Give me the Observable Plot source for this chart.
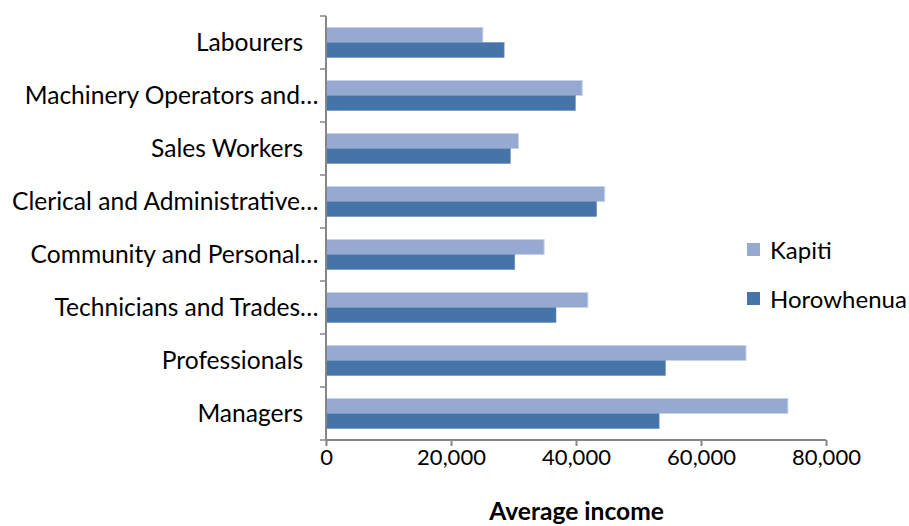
<!DOCTYPE html>
<html>
<head>
<meta charset="utf-8">
<script src="https://cdn.jsdelivr.net/npm/d3@7"></script>
<script src="https://cdn.jsdelivr.net/npm/@observablehq/plot@0.6"></script>
<style>
  html, body { margin: 0; padding: 0; background: #fff; }
  #wrap { position: relative; width: 909px; height: 526px; font-family: Lato, "Open Sans", sans-serif; }
  #legend { position: absolute; left: 747px; top: 235px; font-size: 24px; color: #000; }
  #legend .item { display: flex; align-items: center; height: 28px; margin-bottom: 21px; }
  #legend .sw { width: 13px; height: 13px; margin-right: 10px; }
  svg text { fill: #000; }
  g[aria-label="x-axis tick label"], g[aria-label="x-axis"] g.tick text { font-size: 22px; }
</style>
</head>
<body>
<div id="wrap"></div>
<script>
// Categories (top to bottom)
const categories = [
  "Labourers",
  "Machinery Operators and Drivers",
  "Sales Workers",
  "Clerical and Administrative Workers",
  "Community and Personal Service Workers",
  "Technicians and Trades Workers",
  "Professionals",
  "Managers"
];
// Tick labels as displayed (truncated as in the reference)
const tickLabels = [
  "Labourers",
  "Machinery Operators and…",
  "Sales Workers",
  "Clerical and Administrative…",
  "Community and Personal…",
  "Technicians and Trades…",
  "Professionals",
  "Managers"
];
const seriesNames = ["Kapiti", "Horowhenua"];
const kapiti     = [25100, 41000, 30800, 44600, 34900, 41900, 67200, 73900];
const horowhenua = [28500, 39900, 29500, 43300, 30200, 36800, 54300, 53300];
const xTicks = [0, 20000, 40000, 60000, 80000];
const colors = ["#95a9d1", "#4574a9"];

const kData = categories.map((c, i) => ({category: c, value: kapiti[i], series: "Kapiti"}));
const hData = categories.map((c, i) => ({category: c, value: horowhenua[i], series: "Horowhenua"}));
const labelOf = new Map(categories.map((c, i) => [c, tickLabels[i]]));
const truncated = new Set(categories.filter((c, i) => tickLabels[i].endsWith("…")));

const pad = 23 / 53;

// Axis lines and category-boundary tick marks (Excel style)
function axisFrame(index, scales, values, dims) {
  const y = scales.y;
  const g = d3.create("svg:g").attr("stroke", "#868686").attr("stroke-width", 1.5).attr("fill", "none");
  const ys = categories.map(c => y(c));
  const step = ys.length > 1 ? ys[1] - ys[0] : dims.height;
  const bw = typeof y.bandwidth === "function" ? y.bandwidth() : step * (1 - pad);
  const off = (step - bw) / 2;
  const bounds = ys.map(v => v - off).concat([ys[ys.length - 1] + bw + off]);
  for (const b of bounds) {
    g.append("line").attr("x1", dims.marginLeft - 6).attr("x2", dims.marginLeft)
      .attr("y1", b).attr("y2", b);
  }
  const x0 = scales.x(0);
  const yb = dims.height - dims.marginBottom;
  g.append("line").attr("x1", x0).attr("x2", x0).attr("y1", dims.marginTop).attr("y2", yb).attr("stroke-width", 2);
  g.append("line").attr("x1", x0).attr("x2", dims.width - dims.marginRight).attr("y1", yb).attr("y2", yb).attr("stroke-width", 2);
  return g.node();
}

const chart = Plot.plot({
  width: 909,
  height: 526,
  marginLeft: 326,
  marginRight: 83,
  marginTop: 16,
  marginBottom: 86,
  style: {fontFamily: "Lato, 'Open Sans', sans-serif", fontSize: "24.6px", color: "#000", background: "#fff"},
  x: {domain: [0, 80000], ticks: xTicks, tickFormat: d3.format(","), tickSize: 6, tickPadding: 3, label: null},
  y: {domain: categories, round: false, paddingInner: pad, paddingOuter: pad / 2, tickSize: 0, tickPadding: 8,
      tickFormat: d => truncated.has(d) ? labelOf.get(d) : labelOf.get(d) + "\u2002\u2009", label: null},
  marks: [
    Plot.barX(kData, {x: "value", y: "category", fill: colors[0], stroke: "#c9d4ea", strokeWidth: 1, insetBottom: 15}),
    Plot.barX(hData, {x: "value", y: "category", fill: colors[1], stroke: "#6f8fbd", strokeWidth: 0.6, insetTop: 15}),
    axisFrame,
    Plot.text(["Average income"], {frameAnchor: "bottom", dy: 79, fontWeight: "bold", fontSize: 24.6})
  ]
});

chart.querySelectorAll('g[aria-label="x-axis tick"] path, g[aria-label="x-axis tick"] line, g[aria-label="x-axis"] line').forEach(e => { e.setAttribute("stroke", "#868686"); e.setAttribute("stroke-width", "2"); });

document.getElementById("wrap").appendChild(chart);

const legend = document.createElement("div");
legend.id = "legend";
seriesNames.forEach((s, i) => {
  const it = document.createElement("div");
  it.className = "item";
  const sw = document.createElement("span");
  sw.className = "sw";
  sw.style.background = colors[i];
  const tx = document.createElement("span");
  tx.textContent = s;
  it.appendChild(sw); it.appendChild(tx);
  legend.appendChild(it);
});
document.getElementById("wrap").appendChild(legend);
</script>
</body>
</html>
